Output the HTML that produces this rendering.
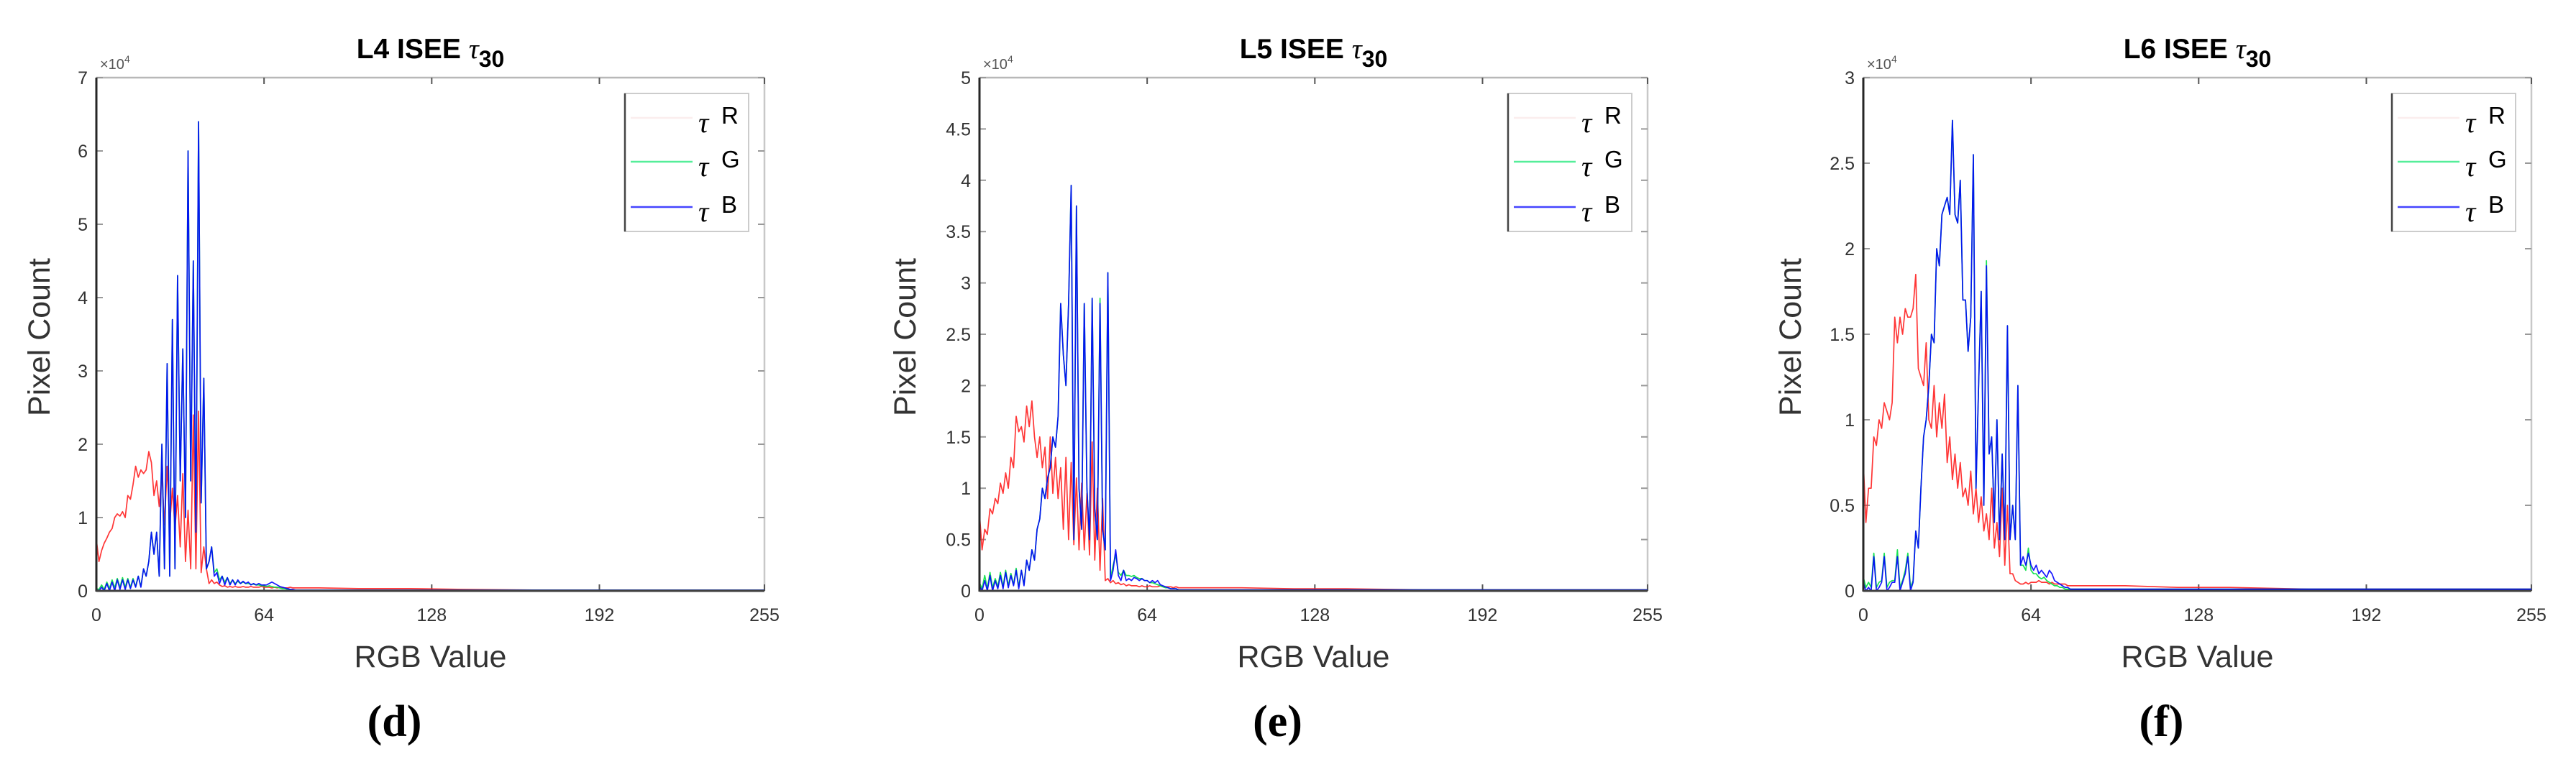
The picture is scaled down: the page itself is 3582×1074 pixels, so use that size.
<!DOCTYPE html>
<html><head><meta charset="utf-8"><style>
html,body{margin:0;padding:0;background:#fff;}
svg{display:block;font-family:"Liberation Sans",Arial,sans-serif;}
</style></head><body>
<svg id="fig" width="3582" height="1074" viewBox="0 0 3582 1074" xmlns="http://www.w3.org/2000/svg"></svg>
<script>
// ---- data (pixel counts, units of 1e4), bins 0..79 ----
const xTicks = [0, 64, 128, 192, 255];
const tailX = [85, 100, 120, 140, 170, 200, 230, 255];

const yTicksD = [0,1,2,3,4,5,6,7];
const dRed = [0.7,0.4,0.55,0.65,0.72,0.8,0.85,1.0,1.05,1.02,1.08,1.0,1.3,1.25,1.45,1.7,1.55,1.65,1.6,1.65,1.9,1.75,1.3,1.5,1.15,1.6,0.9,1.7,0.9,1.4,0.85,1.3,0.6,1.6,0.4,1.1,0.3,2.4,0.3,2.45,0.25,0.6,0.3,0.1,0.15,0.1,0.12,0.08,0.06,0.07,0.05,0.06,0.05,0.06,0.05,0.05,0.06,0.05,0.05,0.06,0.05,0.05,0.05,0.06,0.05,0.05,0.05,0.04,0.05,0.04,0.05,0.04,0.04,0.04,0.05,0.04,0.04,0.04,0.04,0.04];
const dGreen = [0.03,0.02,0.08,0.02,0.12,0.03,0.15,0.04,0.17,0.05,0.18,0.05,0.17,0.05,0.17,0.06,0.2,0.06,0.3,0.2,0.4,0.8,0.5,0.8,0.2,2.0,0.3,3.1,0.2,3.7,0.3,4.3,1.5,3.3,1.0,6.0,1.5,4.5,0.8,6.4,1.2,2.9,0.3,0.4,0.6,0.25,0.3,0.15,0.2,0.12,0.18,0.1,0.15,0.1,0.13,0.1,0.12,0.1,0.1,0.09,0.09,0.08,0.08,0.07,0.07,0.06,0.07,0.06,0.05,0.05,0.04,0.03,0.03,0.02,0.02,0.01,0.01,0.01,0.01,0.01];
const dBlue = [0.02,0,0.05,0,0.1,0,0.12,0,0.15,0.02,0.15,0.02,0.15,0.03,0.15,0.05,0.2,0.05,0.3,0.2,0.4,0.8,0.5,0.8,0.2,2.0,0.3,3.1,0.2,3.7,0.3,4.3,1.5,3.3,1.0,6.0,1.5,4.5,0.8,6.4,1.2,2.9,0.3,0.4,0.6,0.2,0.25,0.1,0.2,0.08,0.18,0.08,0.15,0.08,0.15,0.1,0.13,0.1,0.12,0.08,0.1,0.08,0.1,0.08,0.08,0.08,0.1,0.12,0.1,0.08,0.06,0.05,0.04,0.03,0.02,0.02,0.01,0.01,0.01,0.01];
const dTailR = [0.04,0.03,0.03,0.02,0.01,0.01,0.01,0.01];
const dTailG = [0.01,0.01,0.01,0.01,0.01,0.01,0.01,0.01];
const dTailB = [0.01,0.01,0.01,0.01,0.01,0.01,0.01,0.01];

const yTicksE = [0,0.5,1,1.5,2,2.5,3,3.5,4,4.5,5];
const eRed = [0.75,0.4,0.6,0.55,0.8,0.75,0.9,0.85,1.05,0.95,1.15,1.0,1.3,1.2,1.7,1.55,1.6,1.45,1.8,1.6,1.85,1.5,1.3,1.5,1.2,1.4,0.9,1.5,0.95,1.3,0.9,1.2,0.6,1.3,0.5,1.25,0.45,1.1,0.4,1.05,0.4,0.95,0.35,1.45,0.3,1.0,0.2,0.9,0.1,0.12,0.08,0.1,0.07,0.08,0.06,0.07,0.05,0.06,0.05,0.05,0.05,0.04,0.05,0.04,0.04,0.05,0.04,0.04,0.04,0.05,0.04,0.04,0.04,0.04,0.03,0.04,0.03,0.03,0.03,0.03];
const eGreen = [0.08,0.02,0.15,0.02,0.18,0.03,0.12,0.04,0.18,0.04,0.2,0.05,0.17,0.06,0.22,0.04,0.2,0.06,0.3,0.2,0.4,0.3,0.6,0.7,1.0,0.9,1.1,1.2,1.5,1.4,1.7,2.8,2.3,2.0,2.8,3.95,0.5,3.75,1.0,0.6,2.8,1.0,0.5,2.85,0.8,0.5,2.85,0.6,0.4,3.1,0.12,0.25,0.35,0.18,0.15,0.2,0.15,0.15,0.14,0.15,0.13,0.12,0.12,0.1,0.1,0.08,0.08,0.07,0.06,0.05,0.04,0.03,0.03,0.02,0.02,0.02,0.01,0.01,0.01,0.01];
const eBlue = [0.05,0,0.1,0,0.15,0,0.1,0.02,0.15,0.02,0.18,0.03,0.15,0.05,0.2,0.02,0.2,0.05,0.3,0.2,0.4,0.3,0.6,0.7,1.0,0.9,1.1,1.2,1.5,1.4,1.7,2.8,2.3,2.0,2.8,3.95,0.5,3.75,1.0,0.6,2.8,1.0,0.5,2.85,0.8,0.5,2.8,0.6,0.4,3.1,0.1,0.2,0.4,0.15,0.1,0.2,0.1,0.12,0.1,0.13,0.12,0.1,0.12,0.1,0.1,0.08,0.1,0.08,0.1,0.06,0.05,0.04,0.03,0.02,0.02,0.02,0.01,0.01,0.01,0.01];
const eTailR = [0.03,0.03,0.02,0.02,0.01,0.01,0.01,0.01];
const eTailG = [0.01,0.01,0.01,0.01,0.01,0.01,0.01,0.01];
const eTailB = [0.01,0.01,0.01,0.01,0.01,0.01,0.01,0.01];

const yTicksF = [0,0.5,1,1.5,2,2.5,3];
const fRed = [0.75,0.4,0.6,0.6,0.9,0.85,1.0,0.95,1.1,1.05,1.0,1.1,1.6,1.45,1.6,1.5,1.65,1.6,1.6,1.65,1.85,1.3,1.25,1.2,1.45,1.0,0.95,1.2,0.9,1.1,0.95,1.15,0.75,0.9,0.65,0.8,0.6,0.75,0.55,0.6,0.5,0.7,0.45,0.6,0.4,0.55,0.35,0.45,0.3,0.6,0.25,0.4,0.2,0.6,0.15,0.5,0.1,0.1,0.06,0.05,0.04,0.04,0.05,0.04,0.05,0.05,0.05,0.06,0.05,0.05,0.05,0.04,0.05,0.04,0.04,0.04,0.04,0.04,0.03,0.03];
const fGreen = [0.08,0.02,0.05,0.02,0.22,0.02,0.05,0.06,0.22,0.02,0.05,0.06,0.06,0.24,0.02,0.06,0.12,0.22,0.02,0.06,0.35,0.25,0.6,0.9,1.0,1.2,1.5,1.45,2.0,1.9,2.2,2.25,2.3,2.2,2.75,2.2,2.15,2.4,1.7,1.7,1.4,1.6,2.55,0.6,1.2,1.75,0.5,1.93,0.8,0.9,0.4,1.0,0.3,0.8,0.3,1.55,0.3,0.5,0.3,1.2,0.15,0.15,0.12,0.25,0.12,0.1,0.1,0.08,0.07,0.08,0.06,0.05,0.04,0.03,0.03,0.02,0.02,0.01,0.01,0.01];
const fBlue = [0.05,0,0.02,0,0.2,0,0.02,0.05,0.2,0,0.02,0.05,0.05,0.2,0,0.05,0.1,0.2,0,0.05,0.35,0.25,0.6,0.9,1.0,1.2,1.5,1.45,2.0,1.9,2.2,2.25,2.3,2.2,2.75,2.2,2.15,2.4,1.7,1.7,1.4,1.6,2.55,0.6,1.2,1.75,0.5,1.9,0.8,0.9,0.4,1.0,0.3,0.8,0.3,1.55,0.3,0.5,0.3,1.2,0.15,0.2,0.15,0.22,0.15,0.12,0.15,0.1,0.12,0.1,0.08,0.12,0.1,0.06,0.05,0.04,0.03,0.02,0.02,0.01];
const fTailR = [0.03,0.03,0.02,0.02,0.01,0.01,0.01,0.01];
const fTailG = [0.01,0.01,0.01,0.01,0.01,0.01,0.01,0.01];
const fTailB = [0.01,0.01,0.01,0.01,0.01,0.01,0.01,0.01];

const NS = "http://www.w3.org/2000/svg";
const svg = document.getElementById("fig");
function mk(tag, attrs, parent, txt) {
  const e = document.createElementNS(NS, tag);
  for (const k in attrs) e.setAttribute(k, attrs[k]);
  if (txt !== undefined) e.textContent = txt;
  (parent || svg).appendChild(e);
  return e;
}

function panel(p) {
  const L = p.left, R = p.left + 929, T = 108, B = 822;
  const g = mk("g", {});
  
  
  const sx = v => L + (v / 255) * (R - L);
  const sy = v => B - (v / p.ymax) * (B - T);
  mk("line", {x1:L, y1:T, x2:R, y2:T, stroke:"#b8b8b8", "stroke-width":2.5}, g);
  mk("line", {x1:R, y1:T, x2:R, y2:B, stroke:"#c8c8c8", "stroke-width":2.5}, g);
  p.yTicks.forEach(t => {
    const y = sy(t);
    mk("line", {x1:L, y1:y, x2:L+9, y2:y, stroke:"#999", "stroke-width":2}, g);
    mk("line", {x1:R-9, y1:y, x2:R, y2:y, stroke:"#999", "stroke-width":2}, g);
    const lb = mk("text", {x:L-12, y:y+9, "text-anchor":"end", "font-size":25, fill:"#333"}, g, String(t));
    
    
  });
  xTicks.forEach(t => {
    const x = sx(t);
    mk("line", {x1:x, y1:T, x2:x, y2:T+9, stroke:"#555", "stroke-width":2}, g);
    mk("line", {x1:x, y1:B-9, x2:x, y2:B, stroke:"#555", "stroke-width":2}, g);
    const lb = mk("text", {x:x, y:B+42, "text-anchor":"middle", "font-size":25, fill:"#333"}, g, String(t));
    
    
  });
  const ex = mk("text", {x:L+5, y:T-12, "font-size":20, fill:"#555"}, g);
  
  
  ex.innerHTML = '×10<tspan dy="-9" font-size="14">4</tspan>';
  const series = [[p.red, p.tailR, "#ff2020", "red"], [p.green, p.tailG, "#00e040", "green"], [p.blue, p.tailB, "#0000ff", "blue"]];
  series.forEach(s => {
    const pts = s[0].map((v, i) => sx(i).toFixed(1) + "," + sy(v).toFixed(1));
    tailX.forEach((xv, i) => pts.push(sx(xv).toFixed(1) + "," + sy(s[1][i]).toFixed(1)));
    const pl = mk("polyline", {points:pts.join(" "), fill:"none", stroke:s[2], "stroke-width":1.7, "stroke-linejoin":"round", opacity:0.9}, g);
    
    
  });
  mk("line", {x1:L, y1:T, x2:L, y2:B+1, stroke:"#262626", "stroke-width":3}, g);
  mk("line", {x1:L, y1:B, x2:R, y2:B, stroke:"#404040", "stroke-width":3}, g);
  const tt = mk("text", {x:(L+R)/2, y:81, "text-anchor":"middle", "font-size":39, "font-weight":"bold", fill:"#000"}, g);
  
  
  tt.innerHTML = p.title + ' ISEE <tspan font-style="italic" font-weight="normal" font-family="Liberation Serif, serif">τ</tspan><tspan dy="12" font-size="32">30</tspan>';
  const xl = mk("text", {x:(L+R)/2, y:928, "text-anchor":"middle", "font-size":43, fill:"#333"}, g, "RGB Value");
  
  
  const yx = L + p.ylabOff;
  const yl = mk("text", {x:yx, y:469, "text-anchor":"middle", "font-size":43, fill:"#333", transform:"rotate(-90 " + yx + " 469)"}, g, "Pixel Count");
  
  
  const sl = mk("text", {x:(L+R)/2 - 50, y:1024, "text-anchor":"middle", "font-size":62, "font-weight":"bold", "font-family":"Liberation Serif, serif", fill:"#000"}, g, "(" + p.letter + ")");
  
  
  const lg = mk("g", {}, g);
  
  
  const lx = R - 194, ly = T + 22;
  mk("rect", {x:lx, y:ly, width:172, height:192, fill:"#fff", stroke:"#ccc", "stroke-width":2}, lg);
  mk("line", {x1:lx, y1:ly, x2:lx, y2:ly+192, stroke:"#444", "stroke-width":2.5}, lg);
  [["R", "#fbeeee", 34], ["G", "#55ee99", 95], ["B", "#4444ff", 158]].forEach(e => {
    const en = mk("g", {}, lg);
    
    
    mk("line", {x1:lx+8, y1:ly+e[2], x2:lx+94, y2:ly+e[2], stroke:e[1], "stroke-width":2.5}, en);
    mk("text", {x:lx+102, y:ly+e[2]+20, "font-size":40, "font-style":"italic", "font-family":"Liberation Serif, serif", fill:"#000"}, en, "τ");
    mk("text", {x:lx+134, y:ly+e[2]+8, "font-size":33, fill:"#000"}, en, e[0]);
  });
}

panel({letter:"d", title:"L4", left:134, ymax:7, yTicks:yTicksD, red:dRed, green:dGreen, blue:dBlue, tailR:dTailR, tailG:dTailG, tailB:dTailB, ylabOff:-65});
panel({letter:"e", title:"L5", left:1362, ymax:5, yTicks:yTicksE, red:eRed, green:eGreen, blue:eBlue, tailR:eTailR, tailG:eTailG, tailB:eTailB, ylabOff:-89});
panel({letter:"f", title:"L6", left:2591, ymax:3, yTicks:yTicksF, red:fRed, green:fGreen, blue:fBlue, tailR:fTailR, tailG:fTailG, tailB:fTailB, ylabOff:-87});
</script>
</body></html>
